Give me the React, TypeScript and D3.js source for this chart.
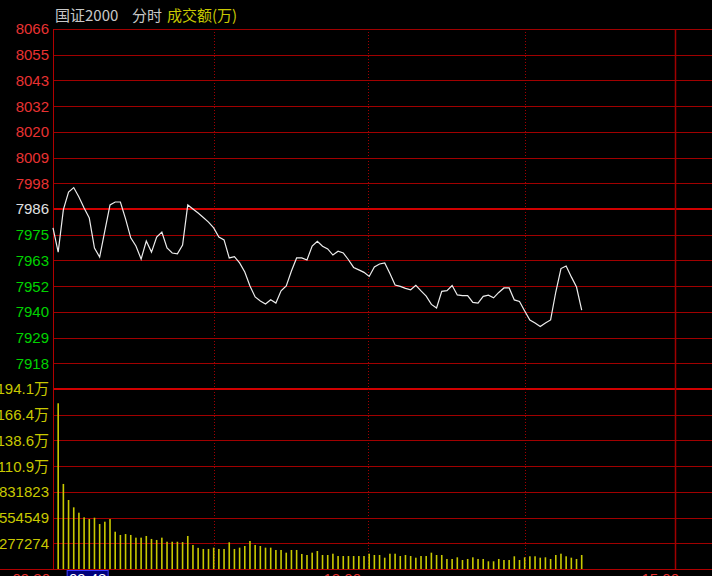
import React from "react";
import * as d3 from "d3";

// 2-minute samples of the index, starting 09:30
const prices: number[] = [
  7977.8, 7967.1, 7985.9, 7993.7, 7995.7, 7991.5, 7986.6, 7982.2, 7968.9, 7964.9,
  7976.5, 7988.0, 7989.3, 7989.3, 7981.8, 7973.4, 7969.8, 7964.0, 7972.0, 7967.1,
  7973.8, 7976.0, 7968.9, 7966.7, 7966.3, 7970.2, 7988.0, 7986.2, 7984.4, 7982.4,
  7980.4, 7977.8, 7973.8, 7972.5, 7964.5, 7965.1, 7962.3, 7958.3, 7952.1, 7947.2,
  7945.4, 7944.1, 7946.0, 7944.5, 7949.9, 7952.1, 7958.7, 7964.5, 7964.5, 7963.6,
  7969.8, 7971.9, 7969.7, 7968.5, 7965.8, 7967.5, 7966.7, 7963.7, 7960.3, 7959.2,
  7958.1, 7956.3, 7960.5, 7961.8, 7962.3, 7957.6, 7952.5, 7951.9, 7951.0, 7950.4,
  7952.4, 7949.9, 7947.6, 7943.9, 7942.3, 7949.7, 7950.0, 7952.3, 7948.1, 7947.8,
  7947.8, 7944.8, 7944.5, 7947.5, 7948.0, 7946.8, 7949.2, 7951.2, 7951.2, 7945.9,
  7945.2, 7941.0, 7937.0, 7935.7, 7934.1, 7935.7, 7937.0, 7949.4, 7959.8, 7960.9,
  7956.1, 7951.6, 7941.4,
];

// turnover per 2-minute bar, first bar ends 09:32
const volumes: number[] = [
  1787000, 917000, 744000, 665000, 607000, 557000, 539000, 553000, 485000, 510000,
  539000, 402000, 367000, 377000, 367000, 338000, 338000, 356000, 324000, 313000,
  338000, 294000, 294000, 294000, 290000, 356000, 259000, 228000, 216000, 216000,
  230000, 216000, 216000, 288000, 216000, 230000, 248000, 302000, 259000, 248000,
  230000, 230000, 205000, 205000, 176000, 205000, 205000, 162000, 151000, 176000,
  194000, 151000, 151000, 165000, 140000, 140000, 140000, 140000, 140000, 140000,
  165000, 151000, 151000, 122000, 165000, 165000, 140000, 151000, 140000, 122000,
  140000, 140000, 176000, 151000, 151000, 108000, 108000, 126000, 97000, 108000,
  126000, 108000, 108000, 83000, 83000, 108000, 97000, 97000, 137000, 97000,
  126000, 137000, 137000, 122000, 126000, 108000, 151000, 165000, 137000, 122000,
  108000, 151000,
];

const priceLabels = ["8066", "8055", "8043", "8032", "8020", "8009", "7998", "7986", "7975", "7963", "7952", "7940", "7929", "7918"];
const volumeLabels = ["194.1万", "166.4万", "138.6万", "110.9万", "831823", "554549", "277274"];
const timeLabels = ["09:30", "13:00", "15:00"];
const timeLabelMinutes = [0, 120, 240];
const gridMinutes = [62, 121.5, 182];
const cursorTime = "09:48";
const cursorMinute = 18;
const prevClose = 7986.2;
const priceStep = 11.4;
const volumeStep = 277274;

const W = 712;
const H = 576;
const left = 53;
const right = 675;
const top = 29;
const mid = 389;
const bottom = 569;

const numFont = "'Liberation Sans', 'Noto Sans CJK SC', sans-serif";
const cjkFont = "'Noto Sans CJK SC', sans-serif";

export default function App() {
  const x = d3.scaleLinear().domain([0, 240]).range([left, right]);
  const yP = d3
    .scaleLinear()
    .domain([prevClose - 7 * priceStep, prevClose + 7 * priceStep])
    .range([mid, top]);
  const yV = d3.scaleLinear().domain([0, 7 * volumeStep]).range([bottom, mid]);

  const linePath = d3
    .line<number>()
    .x((_, i) => x(i * 2))
    .y((d) => yP(d))(prices) || "";

  const priceGrid = d3.range(7, -7, -1); // 7..-6
  const volGrid = d3.range(7, 0, -1); // 7..1

  const labelColor = (i: number) => (i > 0 ? "#e83232" : i === 0 ? "#e0e0e0" : "#00d200");

  return (
    <svg
      width={W}
      height={H}
      style={{ position: "fixed", left: 0, top: 0, background: "#000", display: "block" }}
    >
      <rect x={0} y={0} width={W} height={H} fill="#000" />

      {/* header */}
      <text x={55} y={21} fontFamily={cjkFont} fontSize={15} fill="#c8c8c8">国证2000</text>
      <text x={132} y={21} fontFamily={cjkFont} fontSize={15} fill="#c8c8c8">分时</text>
      <text x={167} y={21} fontFamily={cjkFont} fontSize={15} fill="#c8c800">成交额(万)</text>

      {/* price grid */}
      {priceGrid.map((i) => {
        const yy = Math.round(yP(prevClose + i * priceStep));
        const thick = i === 0;
        return (
          <line
            key={"pg" + i}
            x1={left}
            x2={W}
            y1={thick ? yy : yy + 0.5}
            y2={thick ? yy : yy + 0.5}
            stroke={thick ? "#d00000" : "#a00000"}
            strokeWidth={thick ? 2 : 1}
          />
        );
      })}
      {/* divider */}
      <line x1={left} x2={W} y1={mid} y2={mid} stroke="#d00000" strokeWidth={2} />
      {/* volume grid */}
      {volGrid.slice(1).map((j) => {
        const yy = Math.round(yV(j * volumeStep)) + 0.5;
        return <line key={"vg" + j} x1={left} x2={W} y1={yy} y2={yy} stroke="#a00000" strokeWidth={1} />;
      })}
      <line x1={0} x2={W} y1={bottom + 0.5} y2={bottom + 0.5} stroke="#b00000" strokeWidth={1} />

      {/* vertical lines */}
      <line x1={left + 0.5} x2={left + 0.5} y1={top} y2={bottom} stroke="#b00000" strokeWidth={1} />
      {gridMinutes.map((m) => (
        <line
          key={"vm" + m}
          x1={Math.round(x(m)) + 0.5}
          x2={Math.round(x(m)) + 0.5}
          y1={top}
          y2={bottom}
          stroke="#a00000"
          strokeWidth={1}
          strokeDasharray="1,2"
        />
      ))}
      <line x1={x(240) + 0.5} x2={x(240) + 0.5} y1={top} y2={bottom} stroke="#a00000" strokeWidth={1.5} />

      {/* price labels */}
      {priceLabels.map((lab, idx) => {
        const i = 7 - idx;
        return (
          <text
            key={"pl" + idx}
            x={49}
            y={yP(prevClose + i * priceStep) + 5.4}
            textAnchor="end"
            fontFamily={numFont}
            fontSize={15}
            fill={labelColor(i)}
          >
            {lab}
          </text>
        );
      })}
      {/* volume labels */}
      {volumeLabels.map((lab, idx) => {
        const j = 7 - idx;
        return (
          <text
            key={"vl" + idx}
            x={49}
            y={yV(j * volumeStep) + 5.4}
            textAnchor="end"
            fontFamily={numFont}
            fontSize={15}
            fill="#c8c800"
          >
            {lab}
          </text>
        );
      })}

      {/* volume bars */}
      {volumes.map((v, i) => {
        const xx = x((i + 1) * 2);
        return (
          <rect
            key={"vb" + i}
            x={xx - 0.8}
            y={yV(v)}
            width={1.6}
            height={bottom - yV(v)}
            fill="#c8c800"
          />
        );
      })}

      {/* price line */}
      <path d={linePath} fill="none" stroke="#ececec" strokeWidth={1.2} />

      {/* time labels */}
      {timeLabels.map((t, i) => {
        const m = timeLabelMinutes[i];
        const xx = m === 240 ? x(m) + 4 : x(m) - 3;
        return (
          <text key={"tl" + i} x={xx} y={584} textAnchor="end" fontFamily={numFont} fontSize={15} fill="#e83232">
            {t}
          </text>
        );
      })}
      <rect x={x(cursorMinute) - 32.5} y={570.5} width={41} height={16} fill="#00007a" stroke="#3a3aff" strokeWidth={1} />
      <text x={x(cursorMinute) - 12} y={584} textAnchor="middle" fontFamily={numFont} fontSize={15} fill="#ffffff">
        {cursorTime}
      </text>
    </svg>
  );
}
